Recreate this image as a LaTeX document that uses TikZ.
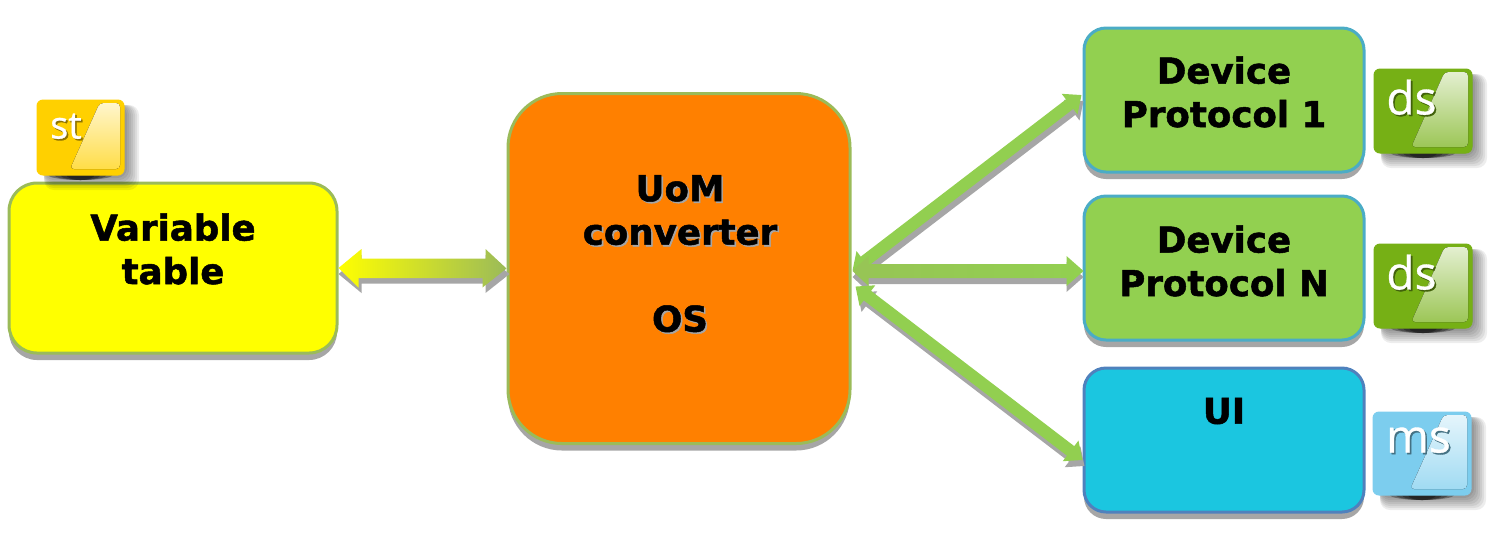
\documentclass[tikz,border=0pt]{standalone}
\usepackage{fontspec}
\setmainfont{DejaVu Sans}[BoldFeatures={FakeBold=1.4}]
\newfontfamily\tilefont{Open Sans}[FakeBold=0.7]
\usetikzlibrary{arrows.meta,calc,shadows}
\definecolor{boxyellow}{HTML}{FFFF00}
\definecolor{boxolive}{HTML}{9BBB59}
\definecolor{boxgreen}{HTML}{92D050}
\definecolor{boxaqua}{HTML}{4BACC6}
\definecolor{boxblue}{HTML}{4F81BD}
\definecolor{boxcyan}{HTML}{1BC6E0}
\definecolor{boxorange}{HTML}{FF8000}
\definecolor{dropgrey}{HTML}{A6A6A6}
\definecolor{tilegold}{HTML}{FFD000}
\definecolor{tilegreen}{HTML}{76B015}
\definecolor{tilesky}{HTML}{7CCDEE}
\tikzset{
  blockbox/.style={draw, rounded corners=11pt, line width=1.5pt,
    drop shadow={shadow xshift=0pt, shadow yshift=-3.5pt, fill=dropgrey, opacity=1}},
  blocktext/.style={align=center, font=\fontsize{17.8}{21.75}\selectfont\bfseries},
  fatline/.style={line width=6pt, draw=boxgreen!95!boxolive,
    {Triangle[length=7.5pt,width=12.5pt]}-{Triangle[length=7.5pt,width=12.5pt]}},
  fatshadow/.style={line width=6pt, draw=dropgrey,
    {Triangle[length=7.5pt,width=12.5pt]}-{Triangle[length=7.5pt,width=12.5pt]},
    transform canvas={xshift=1pt,yshift=-3pt}},
  tiletext/.style={text=white, font=\tilefont\fontsize{23}{23}\selectfont}
}
% text with a small copy behind it
\newcommand{\backed}[2]{\makebox[0pt][l]{\hspace{.8pt}\raisebox{-.8pt}{\color{#1}#2}}#2}
% name, centre x, centre y, width, height, colour, label, label x, label y
\newcommand{\icontile}[9]{
  \foreach \s in {0,2,...,14}
    \fill[black, opacity=.07, rounded corners=5pt]
      (#2-#4/2+7,#3-#5/2+5) rectangle (#2+#4/2+1+\s,#3+#5/2+1+\s);
  \foreach \s in {14,20,26,32}
    \fill[black, opacity=.3] (#2,#3+#5/2) ellipse ({\s*.5pt} and 2.5pt);
  \node[draw=#6, fill=#6, rounded corners=3pt, line width=.5pt, minimum width=#4*.5pt, minimum height=#5*.5pt] (#1) at (#2,#3) {};
  \fill[top color=white!80!#6, bottom color=white!28!#6, rounded corners=2pt]
    (#2+.22*#4,#3-#5/2+3) -- (#2+#4/2-4,#3-#5/2+3) -- (#2+#4/2-4,#3+#5/2-6) -- (#2-.12*#4,#3+#5/2-6) -- cycle;
  \node[tiletext] (#1text) at (#8,#9) {\backed{#6!55!black}{#7}};
}
\begin{document}
\begin{tikzpicture}[x=0.5pt,y=-0.5pt]
  \useasboundingbox (0,0) rectangle (1508,538);
  % blocks
  \node[blockbox, draw=boxolive, fill=boxyellow, rounded corners=14pt, minimum width=164pt, minimum height=85pt] (vartable) at (173,268) {};
  \node[blockbox, draw=boxolive, fill=boxorange, rounded corners=27pt, minimum width=171pt, minimum height=175pt] (uom) at (679,268.5) {};
  \node[blockbox, draw=boxaqua, fill=boxgreen, minimum width=140pt, minimum height=72pt] (protoone) at (1224,100) {};
  \node[blockbox, draw=boxaqua, fill=boxgreen, minimum width=140pt, minimum height=72pt] (proton) at (1224,268) {};
  \node[blockbox, draw=boxblue, fill=boxcyan, minimum width=140pt, minimum height=72pt] (ui) at (1224,440) {};
  % labels
  \node[blocktext] (vartext) at (173,249) {Variable\\table};
  \node[blocktext] (uomtext) at (680,254.5) {\backed{dropgrey}{UoM}\\\backed{dropgrey}{converter}\\[21.75pt]\backed{dropgrey}{OS}};
  \node[blocktext] (onetext) at (1224,92) {Device\\Protocol 1};
  \node[blocktext] (ntext) at (1224,261) {Device\\Protocol N};
  \node[blocktext] (uitext) at (1224,411) {UI};
  % connectors
  \coordinate (hubup) at ($(uom.east)+(1,2)$);
  \coordinate (hubdown) at ($(uom.east)+(4,18)$);
  \coordinate (hubmid) at ($(uom.east)+(1,2.5)$);
  \coordinate (tipone) at ($(protoone.west)+(-1,-5)$);
  \coordinate (tipui) at ($(ui.west)+(0,20)$);
  \coordinate (shmid) at ($(hubmid)+(0,6)$);
  \coordinate (shvar) at ($(vartable.east)+(0,6)$);
  \draw[fatshadow] (hubup) -- (tipone);
  \draw[fatshadow] (hubdown) -- (tipui);
  \path[fill=dropgrey] (shmid) -- ++(16,-15) -- ++(0,8) -- ++(198,0) -- ++(0,-8) -- ++(17,15) -- ++(-17,15) -- ++(0,-8) -- ++(-198,0) -- ++(0,8) -- cycle;
  \path[fill=dropgrey] (shvar) -- ++(23,-19) -- ++(0,9.5) -- ++(124,0) -- ++(0,-9.5) -- ++(24,19) -- ++(-24,19) -- ++(0,-9.5) -- ++(-124,0) -- ++(0,9.5) -- cycle;
  \draw[fatline] (hubup) -- (tipone);
  \draw[fatline] (hubdown) -- (tipui);
  \path[left color=boxolive!55!boxgreen, right color=boxgreen] (hubmid) -- ++(16,-15) -- ++(0,8) -- ++(198,0) -- ++(0,-8) -- ++(17,15) -- ++(-17,15) -- ++(0,-8) -- ++(-198,0) -- ++(0,8) -- cycle;
  \path[left color=boxyellow, middle color=boxyellow!70!boxolive, right color=boxolive] (vartable.east) -- ++(23,-19) -- ++(0,9.5) -- ++(124,0) -- ++(0,-9.5) -- (uom.west) -- ++(-24,19) -- ++(0,-9.5) -- ++(-124,0) -- ++(0,9.5) -- cycle;
  % icons
  \icontile{sttile}{80.5}{137.5}{87}{75}{tilegold}{\fontsize{19}{19}\selectfont st}{66}{127}
  \icontile{dstile}{1423}{111}{98}{84}{tilegreen}{ds}{1411.5}{98}
  \icontile{dsntile}{1423}{286}{98}{84}{tilegreen}{ds}{1411.5}{273}
  \icontile{mstile}{1422}{453.5}{98}{83}{tilesky}{ms}{1418.5}{441}
\end{tikzpicture}
\end{document}
